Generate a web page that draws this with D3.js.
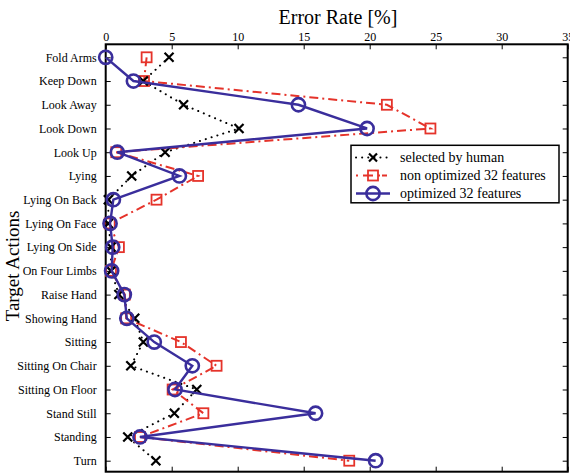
<!DOCTYPE html>
<html><head><meta charset="utf-8">
<script src="https://cdn.jsdelivr.net/npm/d3@7"></script>
<style>body{margin:0;background:#fff}svg{display:block}svg text{font-family:"Liberation Serif","Times New Roman","DejaVu Serif",serif !important}</style>
</head><body><svg id="c" width="570" height="474"></svg>
<script>
const categories = ["Fold Arms","Keep Down","Look Away","Look Down","Look Up","Lying","Lying On Back","Lying On Face","Lying On Side","On Four Limbs","Raise Hand","Showing Hand","Sitting","Sitting On Chair","Sitting On Floor","Stand Still","Standing","Turn"];
const human     = [4.8,2.85,5.9,10.1,4.5,1.97,0.2,0.2,0.4,0.4,1.0,2.2,2.85,1.9,6.9,5.2,1.67,3.8];
const nonOpt    = [3.1,2.9,21.3,24.6,0.8,7.0,3.85,0.3,1.0,0.4,1.45,1.55,5.7,8.4,5.07,7.4,2.6,18.45];
const optimized = [0.0,2.1,14.6,19.8,0.88,5.58,0.58,0.33,0.53,0.45,1.41,1.6,3.68,6.56,5.25,15.9,2.6,20.45];
const xTicks = [0,5,10,15,20,25,30,35];
const seriesNames = ["selected by human","non optimized 32 features","optimized 32 features"];

const FONT = "'Liberation Serif','Times New Roman','DejaVu Serif',serif";
const svg = d3.select("#c");
const L = 105.7, R = 567.7, T = 44.3, B = 471.7;
const x = d3.scaleLinear().domain([0,35]).range([L,R]);
const y = d3.scalePoint().domain(categories).range([57.3, 460.7]);

const BLUE = "#3a2e9c", RED = "#e5332a";

// axes
const gTop = svg.append("g").attr("transform",`translate(0,${T})`)
  .call(d3.axisTop(x).tickValues(xTicks).tickSize(-5).tickPadding(3));
const gBot = svg.append("g").attr("transform",`translate(0,${B})`)
  .call(d3.axisBottom(x).tickValues(xTicks).tickSize(-5).tickFormat(""));
const gLeft = svg.append("g").attr("transform",`translate(${L},0)`)
  .call(d3.axisLeft(y).tickSize(-5).tickPadding(9));
const gRight = svg.append("g").attr("transform",`translate(${R},0)`)
  .call(d3.axisRight(y).tickSize(-5).tickFormat(""));
[gTop,gBot,gLeft,gRight].forEach(g=>{
  g.attr("font-family",FONT).attr("font-size",12);
  g.select(".domain").remove();
  g.selectAll("line").attr("stroke","#000");
  g.selectAll("text").attr("fill","#000").style("font-family",FONT).attr("font-size",12);
});

// frame
svg.append("rect").attr("x",L).attr("y",T).attr("width",R-L).attr("height",B-T)
  .attr("fill","none").attr("stroke","#000").attr("stroke-width",2);

// titles
svg.append("text").attr("x",338).attr("y",24).attr("text-anchor","middle").style("font-family",FONT).attr("font-size",20).text("Error Rate [%]");
svg.append("text").attr("transform","translate(19,266) rotate(-90)").attr("text-anchor","middle").style("font-family",FONT).attr("font-size",19).text("Target Actions");

const line = d3.line().x(d=>x(d.v)).y(d=>y(d.c));
const mk = arr => arr.map((v,i)=>({c:categories[i],v}));

// human
svg.append("path").datum(mk(human)).attr("d",line).attr("fill","none").attr("stroke","#000")
  .attr("stroke-width",2).attr("stroke-dasharray","0.1,6").attr("stroke-linecap","round");
// non optimized
svg.append("path").datum(mk(nonOpt)).attr("d",line).attr("fill","none").attr("stroke",RED)
  .attr("stroke-width",2).attr("stroke-dasharray","9,4,2,4");
svg.selectAll(".sq").data(mk(nonOpt)).join("rect").attr("x",d=>x(d.v)-5).attr("y",d=>y(d.c)-5)
  .attr("width",10).attr("height",10).attr("fill","none").attr("stroke",RED).attr("stroke-width",1.8);
// human markers
function cross(g,cx,cy,s){g.append("path").attr("d",`M${cx-s},${cy-s}L${cx+s},${cy+s}M${cx-s},${cy+s}L${cx+s},${cy-s}`)
  .attr("stroke","#000").attr("stroke-width",2.2).attr("fill","none");}
const gx = svg.append("g");
mk(human).forEach(d=>cross(gx,x(d.v),y(d.c),4.5));
// optimized
svg.append("path").datum(mk(optimized)).attr("d",line).attr("fill","none").attr("stroke",BLUE).attr("stroke-width",2.4);
svg.selectAll(".ci").data(mk(optimized)).join("circle").attr("cx",d=>x(d.v)).attr("cy",d=>y(d.c)).attr("r",6.6)
  .attr("fill","none").attr("stroke",BLUE).attr("stroke-width",2.6);

// legend
const lg = svg.append("g");
lg.append("rect").attr("x",351).attr("y",145.3).attr("width",208).attr("height",57.5).attr("fill","#fff").attr("stroke","#000").attr("stroke-width",1.5);
const rows=[157.5,175.5,193.5];
lg.append("line").attr("x1",356).attr("x2",390).attr("y1",rows[0]).attr("y2",rows[0]).attr("stroke","#000").attr("stroke-width",2).attr("stroke-dasharray","0.1,6").attr("stroke-linecap","round");
cross(lg,373,rows[0],4);
lg.append("line").attr("x1",356).attr("x2",390).attr("y1",rows[1]).attr("y2",rows[1]).attr("stroke",RED).attr("stroke-width",2).attr("stroke-dasharray","2,5,10,5,2");
lg.append("rect").attr("x",368).attr("y",rows[1]-5).attr("width",10).attr("height",10).attr("fill","none").attr("stroke",RED).attr("stroke-width",1.8);
lg.append("line").attr("x1",356).attr("x2",390).attr("y1",rows[2]).attr("y2",rows[2]).attr("stroke",BLUE).attr("stroke-width",2.4);
lg.append("circle").attr("cx",373).attr("cy",rows[2]).attr("r",6.6).attr("fill","none").attr("stroke",BLUE).attr("stroke-width",2.6);
seriesNames.forEach((n,i)=>lg.append("text").attr("x",400).attr("y",rows[i]+4.5).style("font-family",FONT).attr("font-size",14).text(n));
</script></body></html>
